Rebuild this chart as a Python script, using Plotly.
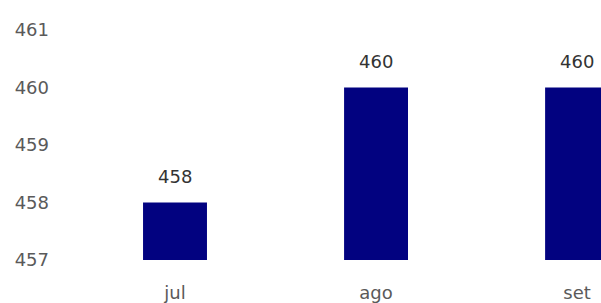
import plotly.graph_objects as go

categories = ["jul", "ago", "set"]
values = [458, 460, 460]
y_ticks = [457, 458, 459, 460, 461]

FONT = "DejaVu Sans"

fig = go.Figure()
fig.add_trace(go.Bar(
    x=categories, y=values,
    marker=dict(color="#020280", line=dict(width=0)),
    width=0.318,
))

for c, v in zip(categories, values):
    fig.add_annotation(
        x=c, y=v, text=str(v), showarrow=False,
        yanchor="bottom", yshift=14,
        font=dict(size=18, color="#333333", family=FONT),
    )

fig.update_layout(
    width=601, height=303,
    margin=dict(l=58, r=0, t=20, b=43),
    paper_bgcolor="white", plot_bgcolor="white",
    showlegend=False,
)
fig.update_xaxes(
    range=[-0.582, 2.119],
    showgrid=False, showline=False, zeroline=False,
    ticks="", ticklabelstandoff=20,
    tickfont=dict(size=18, color="#5a5a5a", family=FONT),
)
fig.update_yaxes(
    range=[457, 461.174],
    tickvals=y_ticks,
    showgrid=False, showline=False, zeroline=False,
    ticks="", ticklabelstandoff=8,
    tickfont=dict(size=18, color="#5a5a5a", family=FONT),
)

fig.write_html(
    "out.html",
    config={"displayModeBar": False},
    post_script="document.body.style.margin='0';document.body.style.overflow='hidden';",
)
